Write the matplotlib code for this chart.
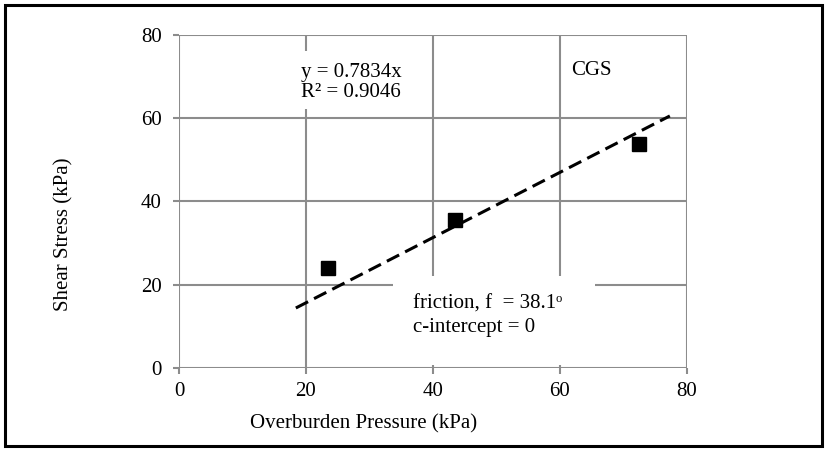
import numpy as np
import matplotlib.pyplot as plt
from matplotlib.patches import Rectangle

plt.rcParams['font.family'] = ['Liberation Serif', 'DejaVu Serif']

# Data
pressure = [23.5, 43.4, 72.4]
shear = [24.1, 35.6, 53.9]
slope = 0.7834
trend_x = [18.4, 77.3]
ticks = [0, 20, 40, 60, 80]

fig = plt.figure(figsize=(8.27, 4.54), dpi=100)
ax = fig.add_axes([179 / 827, 1 - 368 / 454, 508 / 827, 333 / 454])

grid_col = '#8c8c8c'
for t in ticks:
    ax.axhline(t, color=grid_col, lw=1.5, zorder=1)
    ax.axvline(t, color=grid_col, lw=1.5, zorder=1)

tx = np.array(trend_x)
ax.plot(tx, slope * tx, color='black', lw=2.2, ls=(0, (4.5, 2.2)), zorder=3)
ax.plot(pressure, shear, 's', color='black', ms=10, zorder=4)

ax.set_xlim(0, 80)
ax.set_ylim(0, 80)
ax.set_xticks(ticks)
ax.set_yticks(ticks)
for s in ax.spines.values():
    s.set_visible(False)
ax.tick_params(colors=grid_col, labelcolor='black', labelsize=15, length=4.3, width=1.5)
ax.tick_params(axis='x', pad=6)
ax.tick_params(axis='y', pad=8)

# white boxes covering the grid behind the annotations
ax.add_patch(Rectangle((16.7, 62.2), 21.2, 14.0, facecolor='white', edgecolor='none', zorder=2))
ax.add_patch(Rectangle((33.7, 0.7), 31.8, 21.4, facecolor='white', edgecolor='none', zorder=2))

ax.text(27.1, 68.6, 'y = 0.7834x\nR² = 0.9046', fontsize=15, ha='center', va='center',
        linespacing=1.1, zorder=5)
ax.text(65.0, 71.4, 'CGS', fontsize=15, ha='center', va='center', zorder=5)
ax.text(36.85, 12.6, 'friction, f  = 38.1\u1d52\nc-intercept = 0', fontsize=15,
        ha='left', va='center', linespacing=1.3, zorder=5)

fig.text(364 / 827, 1 - 424 / 454, 'Overburden Pressure (kPa)', fontsize=15,
         ha='center', va='center')
fig.text(64 / 827, 1 - 234 / 454, 'Shear Stress (kPa)', fontsize=15,
         ha='center', va='center', rotation=90)

fig.patches.append(Rectangle((5 / 827, 1 - 446 / 454), 817 / 827, 441 / 454,
                             transform=fig.transFigure, fill=False,
                             edgecolor='black', lw=2.2))

fig.savefig('out.png', dpi=100)
